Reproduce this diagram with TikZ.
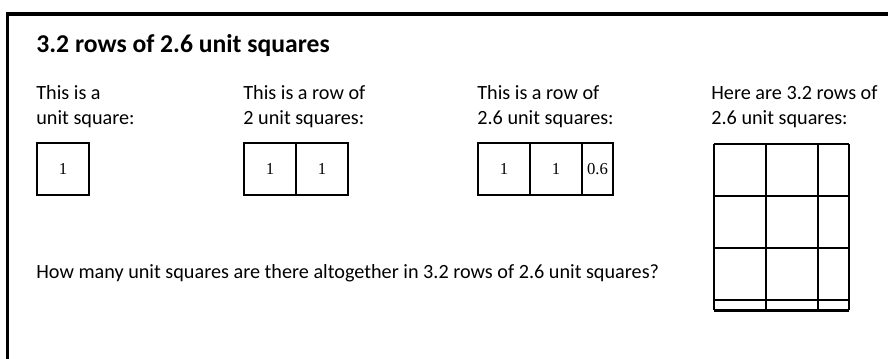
\documentclass[tikz,border=0pt]{standalone}
\usepackage{fontspec}
\setmainfont{Carlito}
\newfontfamily\numfont{Liberation Serif}
\usetikzlibrary{positioning}

\begin{document}
\begin{tikzpicture}[
  x=0.02cm, y=-0.02cm,
  every node/.style={font=\fontsize{11.5}{14.2}\selectfont},
  title/.style={anchor=base west, inner sep=0pt, font=\bfseries\fontsize{14.6}{17}\selectfont},
  caption/.style={anchor=base west, align=left, inner sep=0pt},
  cell/.style={draw, line width=1.5pt, outer sep=0pt, inner sep=0pt,
    minimum height=1.04cm, font=\numfont\fontsize{9.5}{9.5}\selectfont},
  unit/.style={cell, minimum width=1.04cm},
  part/.style={cell, minimum width=0.62cm},
  gridline/.style={line width=1.5pt}
]
\useasboundingbox (0,0) rectangle (888,358);
\clip (0,0) rectangle (888,358);

% --- frame ---
\draw[line width=1.8pt] (7.5,380) -- (7.5,14) -- (900,14);

% --- title and captions ---
\node[title] (head) at (36,53) {3.2 rows of 2.6 unit squares};
\node[caption] (capA) at (36,124) {This is a\\unit square:};
\node[caption] (capB) at (243,124) {This is a row of\\2 unit squares:};
\node[caption] (capC) at (477,124) {This is a row of\\2.6 unit squares:};
\node[caption] (capD) at (711,124) {Here are 3.2 rows of\\2.6 unit squares:};

% --- one unit square ---
\node[unit, anchor=north west] (sqA) at (37,143) {1};

% --- row of 2 ---
\node[unit, anchor=north west] (rowBa) at (244,143) {1};
\node[unit, right=0pt of rowBa] (rowBb) {1};

% --- row of 2.6 ---
\node[unit, anchor=north west] (rowCa) at (478,143) {1};
\node[unit, right=0pt of rowCa] (rowCb) {1};
\node[part, right=0pt of rowCb] (rowCc) {0.6};

% --- 3.2 rows of 2.6 ---
\foreach \x in {714,766,818,849}
  \draw[gridline] (\x,144) -- (\x,310.4);
\foreach \y in {144,196,248,300,310.4}
  \draw[gridline] (714,\y) -- (849,\y);

% --- question ---
\node[caption] (ask) at (36,278) {How many unit squares are there altogether in 3.2 rows of 2.6 unit squares?};

\end{tikzpicture}
\end{document}
